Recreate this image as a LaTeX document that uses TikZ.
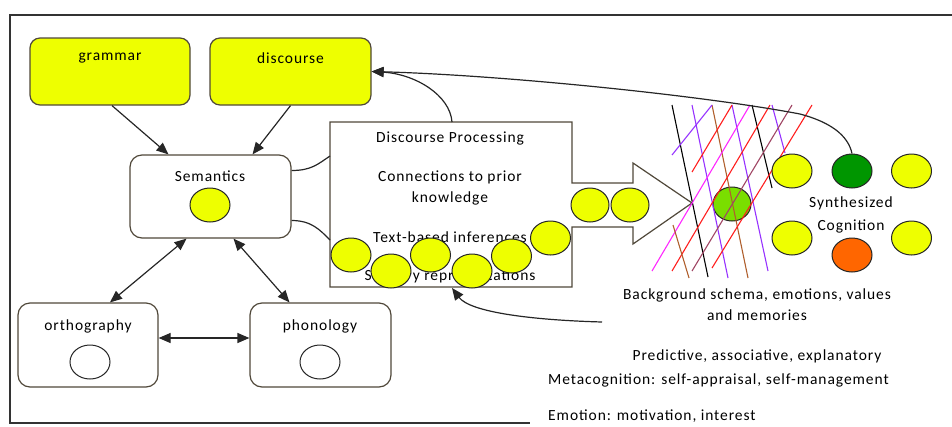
\documentclass[tikz,border=0pt]{standalone}
\usepackage{fontspec}
\setmainfont{Carlito}[LetterSpace=6]
\usetikzlibrary{arrows.meta,shapes.geometric}
\definecolor{yel}{RGB}{238,255,0}
\definecolor{bord}{RGB}{80,72,58}
\definecolor{dgreen}{RGB}{0,150,0}
\definecolor{lgreen}{RGB}{122,222,0}
\definecolor{orng}{RGB}{255,102,0}
\definecolor{hpurple}{RGB}{150,50,255}
\definecolor{hbrown}{RGB}{175,95,45}
\definecolor{hred}{RGB}{255,30,30}
\definecolor{hmag}{RGB}{255,40,255}
\definecolor{hmauve}{RGB}{160,70,100}
\begin{document}
\begin{tikzpicture}[x=1pt,y=-1pt,
  box/.style={draw=bord, line width=1.2pt, rounded corners=10pt, inner sep=0},
  blob/.style={ellipse, draw=black!85, line width=1pt, minimum width=40pt, minimum height=34pt, inner sep=0, fill=yel},
  txt/.style={font=\fontsize{15.5}{18}\selectfont, inner sep=0},
  arr/.style={-{Triangle[length=12pt,width=10pt]}, line width=1.2pt, draw=black!85},
  darr/.style={{Triangle[length=12pt,width=10pt]}-{Triangle[length=12pt,width=10pt]}, line width=1.2pt, draw=black!85},
  link/.style={line width=1.2pt, draw=black!85},
  hatch/.style={line width=1.1pt}]
\useasboundingbox (0,0) rectangle (952,426);
% frame
\draw[line width=1.2pt, draw=black!80] (952,15) -- (10,15) -- (10,423) -- (530,423);

% boxes
\node[box, fill=yel, minimum width=160pt, minimum height=67pt] (grammar) at (110,71.5) {};
\node[txt] (grammarT) at (110,58) {grammar};
\node[box, fill=yel, minimum width=161pt, minimum height=67pt] (discourse) at (290.5,71.5) {};
\node[txt] (discourseT) at (290.5,58) {discourse};
\node[box, fill=white, rounded corners=12pt, minimum width=161pt, minimum height=83pt] (sem) at (210.5,196.5) {};
\node[txt] (semT) at (210,176) {Semantics};
\node[blob] (semC) at (210,205) {};
\node[box, fill=white, rounded corners=12pt, minimum width=140pt, minimum height=84pt] (orth) at (88,345) {};
\node[txt] (orthT) at (88,326) {orthography};
\node[blob, fill=white] (orthC) at (90,362) {};
\node[box, fill=white, rounded corners=12pt, minimum width=141pt, minimum height=84pt] (phon) at (320.5,345) {};
\node[txt] (phonT) at (320,326) {phonology};
\node[blob, fill=white] (phonC) at (320,362) {};

% arrows between boxes
\draw[arr] ([xshift=2pt]grammar.south) -- ([xshift=-42pt]sem.north);
\draw[arr] (discourse.south) -- ([xshift=42pt]sem.north);
\draw[darr] ([xshift=-24pt]sem.south) -- ([xshift=22pt]orth.north);
\draw[darr] ([xshift=23pt]sem.south) -- ([xshift=-31pt]phon.north);
\draw[darr] ([yshift=7pt]orth.east) -- ([yshift=7pt]phon.west);

% discourse processing block arrow
\draw[draw=bord, line width=1.2pt, fill=white] (330,122) -- (572,122) -- (572,183) -- (633,183) -- (633,163) -- (692,203) -- (633,244) -- (633,227) -- (572,227) -- (572,287) -- (330,287) -- cycle;
\coordinate (dpTop) at (452,122);
\coordinate (dpBot) at (452,288);
\coordinate (dpL1) at (330,156);
\coordinate (dpL2) at (330,240);
\node[txt] (dp1) at (450,138) {Discourse Processing};
\node[txt] (dp2) at (450,177) {Connections to prior};
\node[txt] (dp3) at (450,198) {knowledge};
\node[txt] (dp4) at (450,237) {Text-based inferences};
\node[txt] (dp5) at (450,276) {Sensory representations};

% links semantics -> DP
\draw[link] ([yshift=26pt]sem.east) .. controls +(20,0) and +(-12,8) .. (dpL1);
\draw[link] ([yshift=-24pt]sem.east) .. controls +(20,0) and +(-10,-10) .. (dpL2);
\draw[arr] (dpTop) .. controls (450,95) and (415,74) .. (discourse.east);

% circles in DP
\node[blob] (c1) at (351,255) {};
\node[blob] (c2) at (391,271) {};
\node[blob] (c3) at (430.5,255) {};
\node[blob] (c4) at (472,271) {};
\node[blob] (c5) at (511.5,256) {};
\node[blob] (c6) at (550.5,238) {};
\node[blob, minimum width=38pt] (c7) at (590,205) {};
\node[blob, minimum width=38pt] (c8) at (630,205) {};

% background schema
\node[blob, fill=lgreen, minimum width=38pt] (gc) at (732,204) {};
\draw[hatch, black] (672,105) -- (708,277);
\draw[hatch, hpurple] (692,105) -- (728,278);
\draw[hatch, hbrown] (712,105) -- (748,278);
\draw[hatch, hpurple] (732,105) -- (768,271);
\draw[hatch, black] (752,105) -- (772,188);
\draw[hatch, hpurple] (772,105) -- (785,153);
\draw[hatch, hpurple] (672,155) -- (712,105);
\draw[hatch, hred] (692,172) -- (732,105);
\draw[hatch, hmag] (652,271) -- (750,105);
\draw[hatch, hred] (672,271) -- (770,105);
\draw[hatch, hmauve] (692,271) -- (792,105);
\draw[hatch, hred] (712,268) -- (812,105);
\draw[hatch, hbrown] (673,225) -- (689,278);

% synthesized cognition
\node[blob] (s1) at (792,171) {};
\node[blob, fill=dgreen] (s2) at (852,171) {};
\node[blob] (s3) at (911.5,171) {};
\node[blob] (s4) at (792,238) {};
\node[blob, fill=orng] (s5) at (852,255) {};
\node[blob] (s6) at (911.5,238) {};
\node[txt] (synT1) at (851,203) {Synthesized};
\node[txt] (synT2) at (851,226) {Cognition};

\coordinate (mid) at (800,114);
\draw[arr] (s2.north) .. controls (848,135) and (830,122) .. (mid) .. controls (700,95) and (500,75) .. (discourse.east);

\coordinate (bgEnd) at (602,322);
\draw[arr] (bgEnd) .. controls (530,320) and (470,312) .. (dpBot);

% texts
\node[txt] (bg1) at (757,295) {Background schema, emotions, values};
\node[txt] (bg2) at (757,315) {and memories};
\node[txt] (pr) at (757,356) {Predictive, associative, explanatory};
\node[txt, anchor=west] (meta) at (548,380) {Metacognition: self-appraisal, self-management};
\node[txt, anchor=west] (emo) at (548,416) {Emotion: motivation, interest};
\end{tikzpicture}
\end{document}
